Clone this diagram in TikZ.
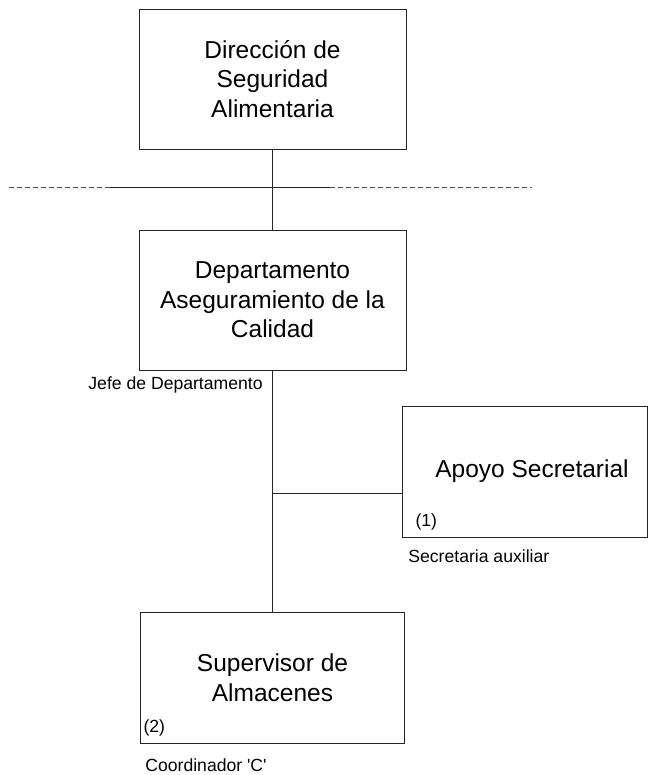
\documentclass[tikz,border=0pt]{standalone}
\usepackage{fontspec}
\setmainfont{Liberation Sans}
\usepackage{tikz}
\usetikzlibrary{positioning}

\begin{document}
\begin{tikzpicture}[x=1bp, y=-1bp, line width=0.8bp, draw=black!85,
  unit/.style={rectangle, draw, align=center, inner sep=0pt,
    font=\fontsize{24.5bp}{29.5bp}\selectfont},
  note/.style={inner sep=0pt, font=\fontsize{17.6bp}{20bp}\selectfont},
  guide/.style={dash pattern=on 5bp off 3bp, draw=black!70}]

  \useasboundingbox (0,0) rectangle (648,775);

  \node[unit, minimum width=267bp, minimum height=140bp] (dir) at (272.5,79)
    {Dirección de\\Seguridad\\Alimentaria};
  \node[unit, minimum width=267bp, minimum height=140bp] (dept) at (272.5,300)
    {Departamento\\Aseguramiento de la\\Calidad};
  \node[unit, minimum width=245bp, minimum height=131bp] (apoyo) at (525,471.5)
    {\hspace*{14bp}Apoyo Secretarial};
  \node[unit, minimum width=264bp, minimum height=131bp] (super) at (272.5,677.5)
    {Supervisor de\\Almacenes};

  \node[note, anchor=south west] (n1) at ([xshift=13bp, yshift=7bp]apoyo.south west) {(1)};
  \node[note, anchor=south west] (n2) at ([xshift=3bp, yshift=7bp]super.south west) {(2)};

  \node[note, anchor=east] (jefe) at (263,385) {Jefe de Departamento};
  \node[note, anchor=west] (secre) at (408,556) {Secretaria auxiliar};
  \node[note, anchor=west] (coord) at (145,765) {Coordinador \textquotesingle C\textquotesingle};

  % linea de staff
  \coordinate (hl0) at (9,187);
  \coordinate (hl1) at (110,187);
  \coordinate (hl2) at (330,187);
  \coordinate (hl3) at (532,187);
  \draw[guide] (hl0) -- (hl1);
  \draw (hl1) -- (hl2);
  \draw[guide] (hl2) -- (hl3);

  \draw (dir) -- (dept);
  \draw (dept.south) -- (dept.south |- super.north);
  \coordinate (br) at (272.5,493);
  \draw (br) -- (br -| apoyo.west);

\end{tikzpicture}
\end{document}
